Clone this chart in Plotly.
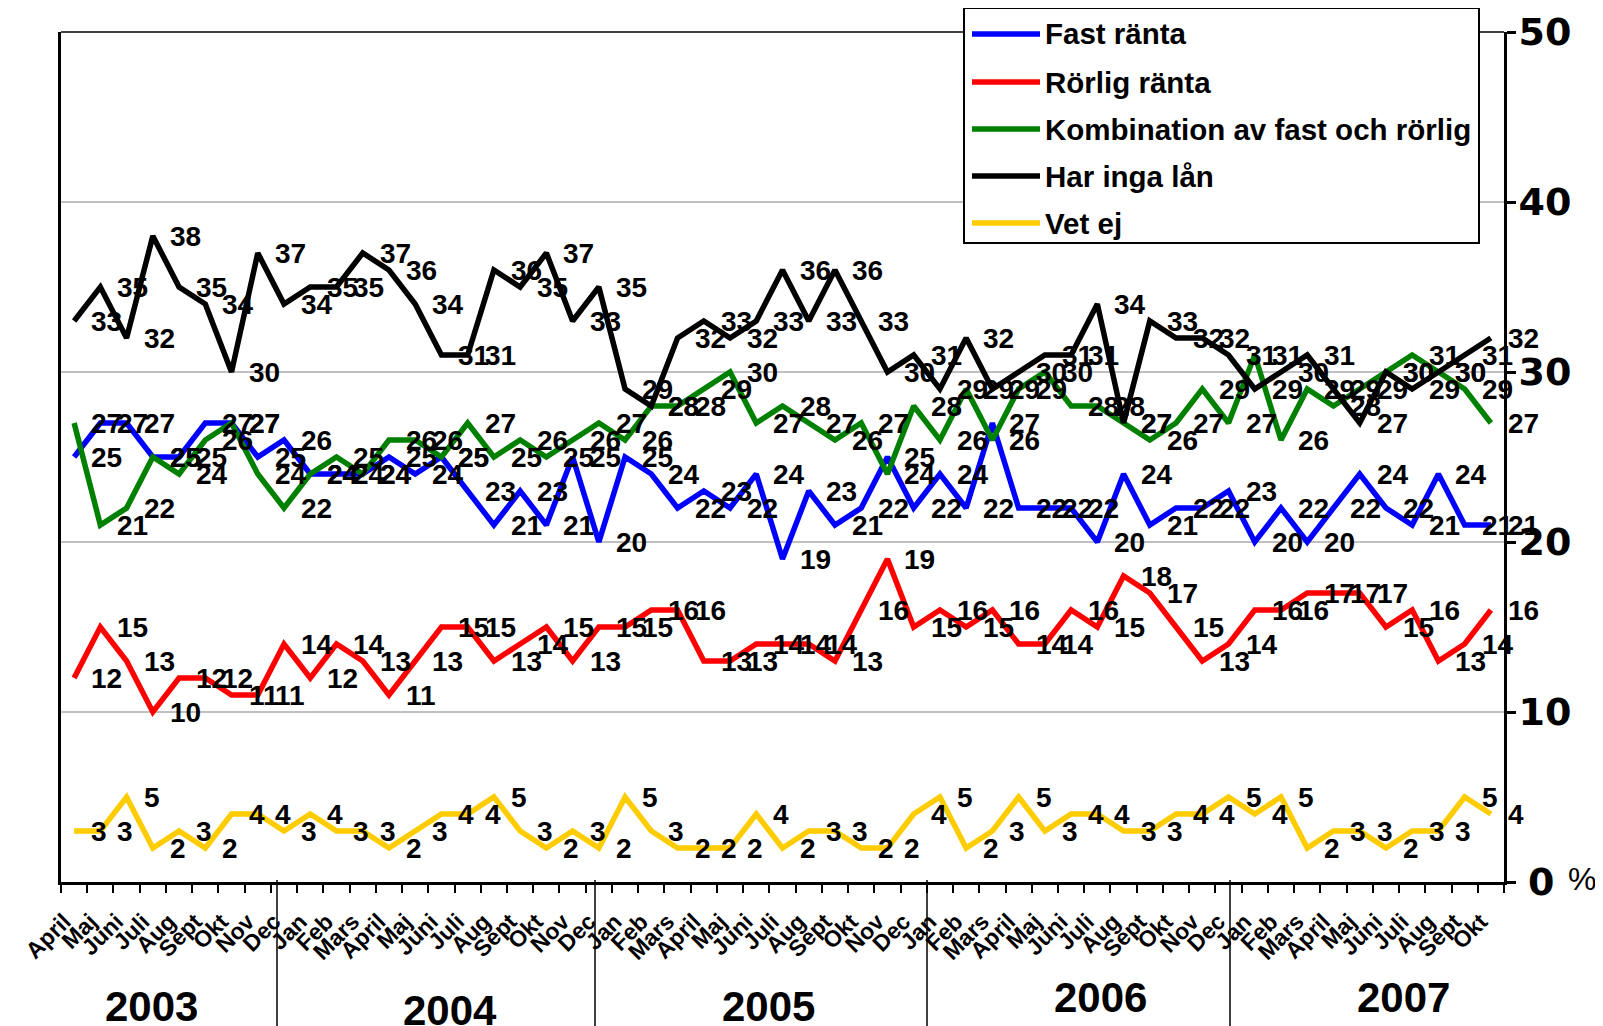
import plotly.graph_objects as go

# ---------------- data ----------------
months = (
    ["April", "Maj", "Juni", "Juli", "Aug", "Sept", "Okt", "Nov", "Dec"]
    + ["Jan", "Feb", "Mars", "April", "Maj", "Juni", "Juli", "Aug", "Sept", "Okt", "Nov", "Dec"] * 3
    + ["Jan", "Feb", "Mars", "April", "Maj", "Juni", "Juli", "Aug", "Sept", "Okt"]
)
years = ["2003", "2004", "2005", "2006", "2007"]
y_ticks = [0, 10, 20, 30, 40, 50]
y_tick_text = ["\u20050", "10", "20", "30", "40", "50"]

fast_ranta = [25, 27, 27, 25, 25, 27, 27, 25, 26, 24, 24,
              24, 25, 24, 25, 23, 21, 23, 21, 25, 20,
              25, 24, 22, 23, 22, 24, 19, 23, 21, 22, 25, 22,
              24, 22, 27, 22, 22, 22, 20, 24, 21, 22, 22,
              23, 20, 22, 20, 22, 24, 22, 21, 24, 21, 21]
rorlig_ranta = [12, 15, 13, 10, 12, 12, 11, 11, 14, 12, 14,
                13, 11, 13, 15, 15, 13, 14, 15, 13, 15,
                15, 16, 16, 13, 13, 14, 14, 14, 13, 16, 19, 15,
                16, 15, 16, 14, 14, 16, 15, 18, 17, 15, 13,
                14, 16, 16, 17, 17, 17, 15, 16, 13, 14, 16]
kombination = [27, 21, 22, 25, 24, 26, 27, 24, 22, 24, 25,
               24, 26, 26, 25, 27, 25, 26, 25, 26, 27,
               26, 28, 28, 29, 30, 27, 28, 27, 26, 27, 24, 28,
               26, 29, 26, 29, 30, 28, 28, 27, 26, 27, 29,
               27, 31, 26, 29, 28, 29, 30, 31, 30, 29, 27]
har_inga_lan = [33, 35, 32, 38, 35, 34, 30, 37, 34, 35, 35,
                37, 36, 34, 31, 31, 36, 35, 37, 33, 35,
                29, 28, 32, 33, 32, 33, 36, 33, 36, 33, 30, 31,
                29, 32, 29, 30, 31, 31, 34, 27, 33, 32, 32,
                31, 29, 30, 31, 29, 27, 30, 29, 30, 31, 32]
vet_ej = [3, 3, 5, 2, 3, 2, 4, 4, 3, 4, 3,
          3, 2, 3, 4, 4, 5, 3, 2, 3, 2,
          5, 3, 2, 2, 2, 4, 2, 3, 3, 2, 2, 4,
          5, 2, 3, 5, 3, 4, 4, 3, 3, 4, 4,
          5, 4, 5, 2, 3, 3, 2, 3, 3, 5, 4]

series_names = ["Fast ränta", "Rörlig ränta", "Kombination av fast och rörlig",
                "Har inga lån", "Vet ej"]
series_values = [fast_ranta, rorlig_ranta, kombination, har_inga_lan, vet_ej]
series_colors = ["#0000FF", "#FF0000", "#008000", "#000000", "#FFCC00"]

# ---------------- layout geometry (page pixels) ----------------
OFF = 8                      # page body margin of the html page
W, H = 1603 - OFF, 1026 - OFF
PL, PR, PT, PB = 61, 1504, 32, 882   # plot area in page pixels
FONT = "Liberation Sans, Arial, sans-serif"


def px_x(px):
    return (px - PL) / (PR - PL)


def px_y(py):
    return (PB - py) / (PB - PT)


x = list(range(len(months)))

fig = go.Figure()
for name, vals, col in zip(series_names, series_values, series_colors):
    fig.add_trace(go.Scatter(x=x, y=vals, mode="lines", name=name,
                             line=dict(color=col, width=5.5),
                             showlegend=False, hoverinfo="skip"))

annotations = []
# data labels (to the right of each point)
for vals in series_values:
    for xi, v in zip(x, vals):
        annotations.append(dict(x=xi, y=v, xref="x", yref="y", text=str(v),
                                showarrow=False, xanchor="left", yanchor="middle",
                                xshift=15, font=dict(family=FONT, size=28, color="black",
                                                     weight="bold")))

# year labels
year_pos = [(151, 1007), (450, 1010), (768, 1007), (1100, 997), (1403, 997)]
for yr, (xp, yp) in zip(years, year_pos):
    annotations.append(dict(x=px_x(xp), y=px_y(yp), xref="paper", yref="paper", text=yr,
                            showarrow=False, xanchor="center", yanchor="middle",
                            font=dict(family=FONT, size=42, color="black", weight="bold")))

# percent sign next to 0
annotations.append(dict(x=px_x(1566), y=px_y(879), xref="paper", yref="paper", text="%",
                        showarrow=False, xanchor="left", yanchor="middle",
                        font=dict(family=FONT, size=32, color="black")))

shapes = []
# top frame line
shapes.append(dict(type="line", xref="paper", yref="paper", x0=0, x1=1, y0=1, y1=1,
                   line=dict(color="black", width=1.5)))
# year separators
for sp in [277, 595, 927, 1230]:
    shapes.append(dict(type="line", xref="paper", yref="paper", x0=px_x(sp), x1=px_x(sp),
                       y0=px_y(PB - 2), y1=px_y(1030), line=dict(color="black", width=1.5)))

# manual legend
LX0, LX1, LY0, LY1 = 964, 1479, 8, 243
shapes.append(dict(type="rect", xref="paper", yref="paper", x0=px_x(LX0), x1=px_x(LX1),
                   y0=px_y(LY1), y1=px_y(LY0), fillcolor="white",
                   line=dict(color="black", width=2), layer="above"))
row_y = [34, 82, 129, 176, 223]
for name, col, ry in zip(series_names, series_colors, row_y):
    shapes.append(dict(type="line", xref="paper", yref="paper", x0=px_x(972), x1=px_x(1040),
                       y0=px_y(ry), y1=px_y(ry), line=dict(color=col, width=5.5), layer="above"))
    annotations.append(dict(x=px_x(1043), y=px_y(ry), xref="paper", yref="paper", text=name,
                            showarrow=False, xanchor="left", yanchor="middle",
                            font=dict(family=FONT, size=29.5, color="black", weight="bold")))

fig.update_layout(
    width=W, height=H, autosize=False,
    margin=dict(l=PL - OFF, r=W - (PR - OFF), t=PT - OFF, b=H - (PB - OFF), pad=0,
                autoexpand=False),
    paper_bgcolor="white", plot_bgcolor="white",
    showlegend=False,
    annotations=annotations, shapes=shapes,
    xaxis=dict(range=[-0.5, len(months) - 0.5], tickmode="array", tickvals=x, ticktext=months,
               tickangle=-45, ticks="", showgrid=False, zeroline=False, automargin=False,
               showline=True, linecolor="black", linewidth=3,
               tickfont=dict(family=FONT, size=23, color="black", weight="bold"),
               ticklabelstandoff=14, ticklabelshift=-10,
               minor=dict(tickmode="array", tickvals=[i - 0.5 for i in range(len(months) + 1)],
                          ticks="outside", ticklen=8, tickwidth=2, tickcolor="black",
                          showgrid=False)),
    yaxis=dict(range=[0, 50], side="right", tickmode="array", tickvals=y_ticks,
               ticktext=y_tick_text,
               ticks="outside", ticklen=9, tickwidth=3, tickcolor="black", automargin=False,
               showline=True, linecolor="black", linewidth=3, mirror=True,
               showgrid=True, gridcolor="#C0C0C0", gridwidth=2, zeroline=False,
               ticklabelstandoff=-5,
               tickfont=dict(family="DejaVu Sans, Liberation Sans, sans-serif", size=38,
                             color="black", weight="bold")),
)

fig.write_html("out.html")
